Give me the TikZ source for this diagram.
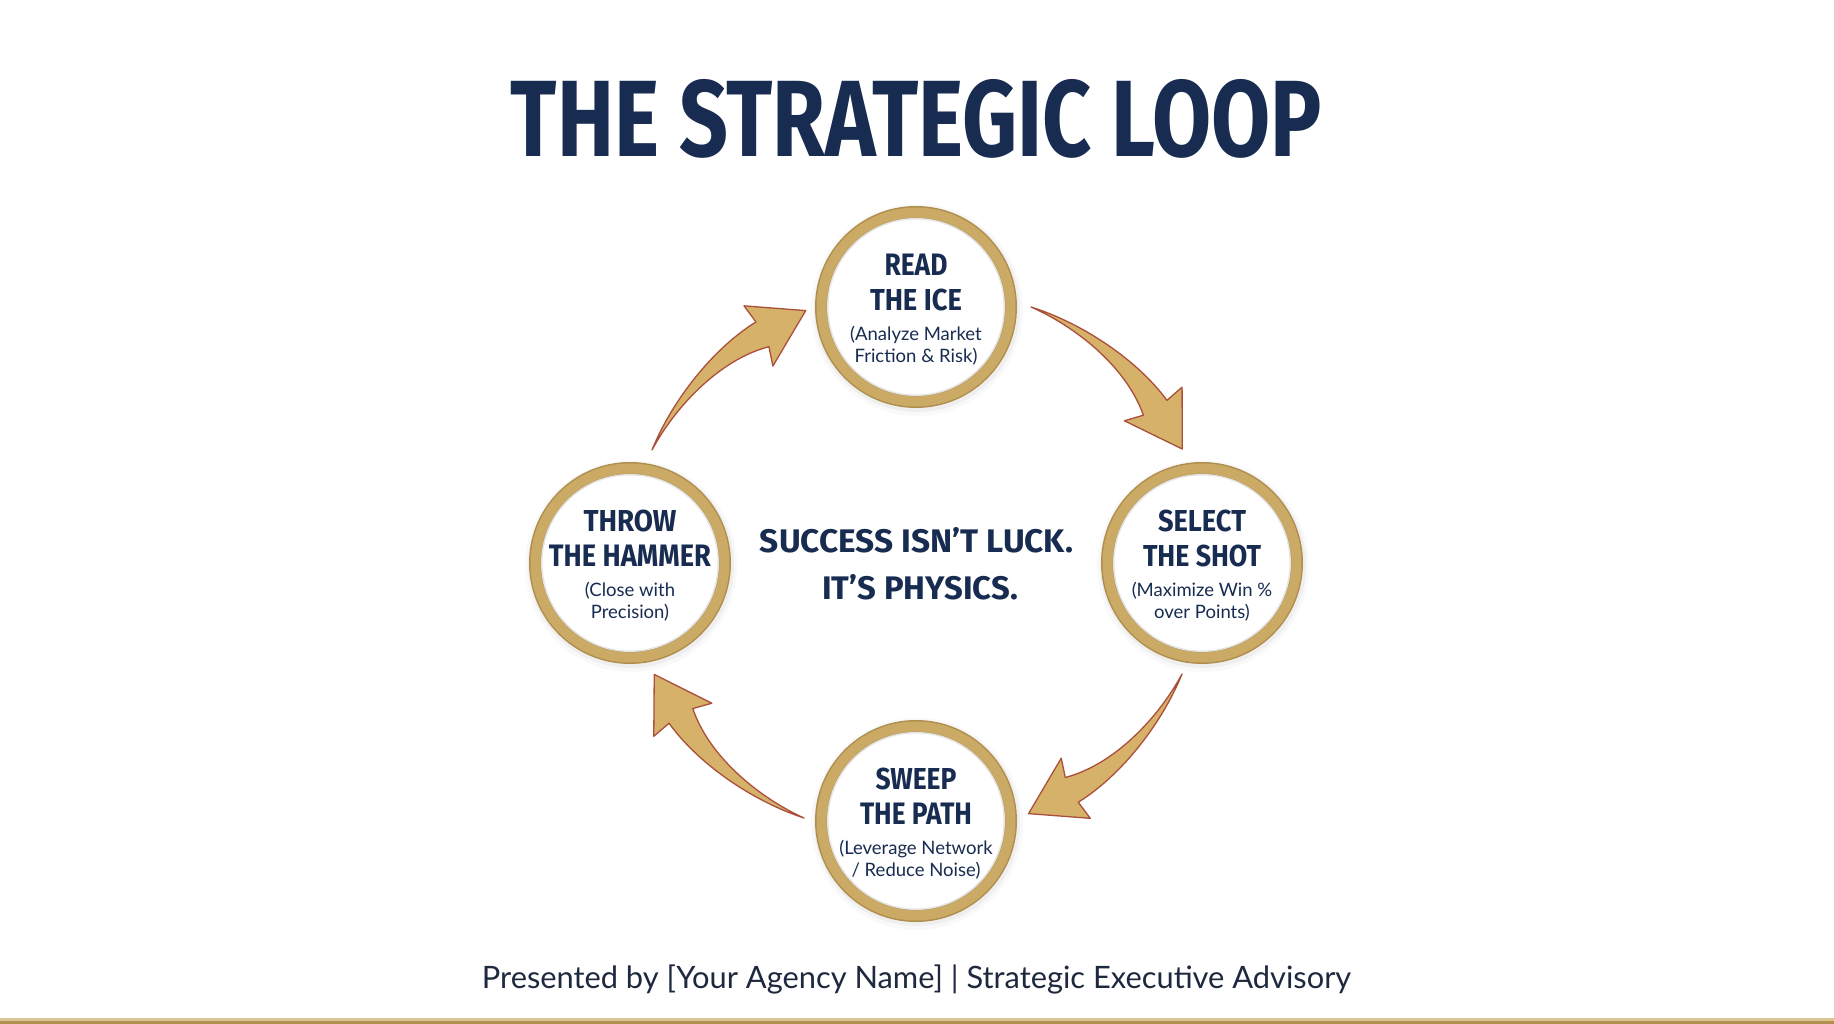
\documentclass[tikz,border=0pt]{standalone}
\usepackage{fontspec}
\usepackage{graphicx}
\setmainfont{Lato}
\newfontfamily\condfont[FakeStretch=0.8]{Fira Sans}
\definecolor{navy}{RGB}{23,44,80}
\definecolor{footc}{RGB}{30,40,62}
\definecolor{ringgold}{RGB}{203,170,102}
\definecolor{ringdark}{RGB}{176,142,78}
\definecolor{arrowgold}{RGB}{214,177,106}
\definecolor{arrowred}{RGB}{170,80,58}
\tikzset{
  looparrow/.style={fill=arrowgold, draw=arrowred, line width=1.3pt, line join=round},
  subtxt/.style={text=navy, font=\fontsize{18.5}{20}\selectfont, inner sep=0pt},
  captxt/.style={text=navy, inner sep=0pt}
}
\newcommand\fitcap[3]{\resizebox{#1pt}{#2pt}{\condfont\bfseries #3}}
% name, x, y, line1, w1, line2, w2, sub1, sub2
\newcommand\stage[9]{%
  \fill[black,opacity=0.025] (#2+1,#3-3) circle (106);
  \fill[black,opacity=0.04] (#2+1,#3-2) circle (103);
  \fill[ringdark] (#2,#3) circle (101);
  \fill[ringgold] (#2,#3) circle (99.5);
  \fill[white] (#2,#3) circle (89);
  \draw[black,opacity=0.10,line width=2pt] (#2,#3) circle (88.5);
  \node[circle,minimum size=202pt,inner sep=0pt] (#1) at (#2,#3) {};
  \node[captxt,anchor=base] (#1-l1) at ([yshift=31pt]#1.center) {\fitcap{#5}{21.5}{#4}};
  \node[captxt,anchor=base] (#1-l2) at ([yshift=-4pt]#1.center) {\fitcap{#7}{21.5}{#6}};
  \node[subtxt,anchor=base] (#1-s1) at ([yshift=-34pt]#1.center) {#8};
  \node[subtxt,anchor=base] (#1-s2) at ([yshift=-56pt]#1.center) {#9};
}
\newcommand\loopshape{(0,0) .. controls (50,24) and (115,34) .. (163,25) -- (165,45) -- (207.5,0) -- (146,-19) -- (156,-2) .. controls (110,22) and (45,16) .. (0,0) -- cycle}
\begin{document}
\begin{tikzpicture}[x=1pt,y=1pt]
\useasboundingbox (0,0) rectangle (1834,1024);
\fill[white] (0,0) rectangle (1834,1024);

% title
\node[captxt,anchor=base] (title) at (916.5,867) {\fitcap{811}{77}{THE STRATEGIC LOOP}};

% stages
\stage{read}{916}{717}{READ}{63}{THE ICE}{92}{(Analyze Market}{Friction \& Risk)}
\stage{select}{1202}{461}{SELECT}{88}{THE SHOT}{118}{(Maximize Win \%}{over Points)}
\stage{sweep}{916}{203}{SWEEP}{81}{THE PATH}{112}{(Leverage Network}{/ Reduce Noise)}
\stage{throw}{630}{461}{THROW}{93}{THE HAMMER}{162}{(Close with}{Precision)}

% centre text
\node[captxt,anchor=base] (msg1) at (916.5,471) {\fitcap{313}{25}{SUCCESS ISN’T LUCK.}};
\node[captxt,anchor=base] (msg2) at (920,424) {\fitcap{196}{25}{IT’S PHYSICS.}};

% arrows
\coordinate (a1s) at (1031,717);
\coordinate (a2s) at (1182,350);
\coordinate (a3s) at (804,206);
\coordinate (a4s) at (652,574);
\begin{scope}[shift={(a1s)},rotate=-43.2]
  \path[looparrow] \loopshape;
\end{scope}
\begin{scope}[shift={(a2s)},rotate=-137.7]
  \path[looparrow] \loopshape;
\end{scope}
\begin{scope}[shift={(a3s)},rotate=136.2]
  \path[looparrow] \loopshape;
\end{scope}
\begin{scope}[shift={(a4s)},rotate=42.2]
  \path[looparrow] \loopshape;
\end{scope}

% footer
\node[anchor=base,inner sep=0pt,text=footc] (foot) at (916.5,35) {\resizebox{869pt}{!}{Presented by [Your Agency Name] | Strategic Executive Advisory}};
\fill[ringgold!70] (0,0) rectangle (1834,6);
\fill[ringdark] (0,0) rectangle (1834,3);
\end{tikzpicture}
\end{document}
